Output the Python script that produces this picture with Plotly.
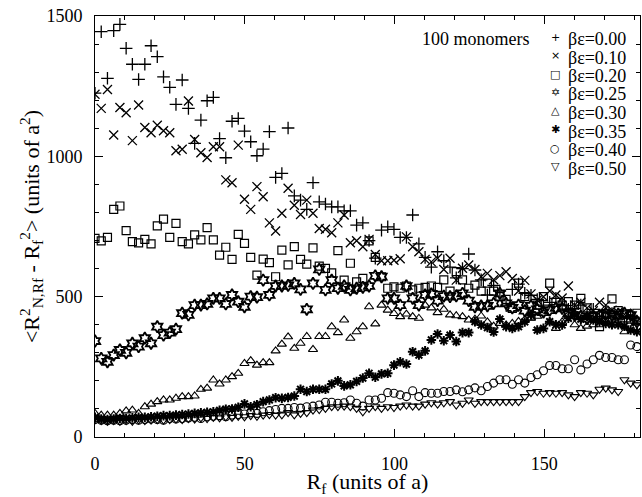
import plotly.graph_objects as go

# R_f sample positions (units of a)
R_f = [0, 2.08, 4.16, 6.24, 8.32, 10.4, 12.48, 14.56, 16.64, 18.72,
       20.8, 22.88, 24.96, 27.04, 29.12, 31.2, 33.28, 35.36, 37.44, 39.52,
       41.6, 43.68, 45.76, 47.84, 49.92, 52.0, 54.08, 56.16, 58.24, 60.32,
       62.4, 64.48, 66.56, 68.64, 70.72, 72.8, 74.88, 76.96, 79.04, 81.12,
       83.2, 85.28, 87.36, 89.44, 91.52, 93.6, 95.68, 97.76, 99.84, 101.92,
       104.0, 106.08, 108.16, 110.24, 112.32, 114.4, 116.48, 118.56, 120.64, 122.72,
       124.8, 126.88, 128.96, 131.04, 133.12, 135.2, 137.28, 139.36, 141.44, 143.52,
       145.6, 147.68, 149.76, 151.84, 153.92, 156.0, 158.08, 160.16, 162.24, 164.32,
       166.4, 168.48, 170.56, 172.64, 174.72, 176.8, 178.88, 180.96]

be_000 = [1225, 1444, 1278, 1448, 1470, 1385, 1328, 1274, 1328, 1394,
          1355, 1283, 1246, 1185, 1272, 1171, 1046, 1129, 1198, 1210,
          1063, 995, 1125, 1135, 1090, 1052, 1002, 1026, 1088, 925,
          939, 1101, 859, 844, 811, 906, 838, 830, 820, 820,
          806, 806, 755, 763, 700, 637, 737, 749, 740, 711,
          711, 791, 688, 640, 605, 660, 628, 605, 567, 600,
          652, 595, 560, 506, 540, 520, 470, 526, 545, 512,
          505, 490, 470, 480, 494, 470, 455, 458, 470, 440,
          455, 430, 446, 440, 420, 410, 430, 405]

be_010 = [1221, 1171, 1238, 1076, 1174, 1155, 1056, 1183, 1103, 1084,
          1111, 1091, 1084, 1020, 1025, 1197, 1060, 1013, 996, 1034,
          1034, 916, 906, 1040, 847, 811, 892, 856, 763, 734,
          797, 886, 826, 793, 844, 797, 743, 740, 728, 763,
          791, 692, 699, 678, 704, 650, 628, 628, 630, 635,
          713, 678, 660, 633, 624, 637, 597, 637, 559, 601,
          613, 597, 571, 583, 560, 575, 589, 565, 520, 558,
          510, 488, 500, 520, 506, 495, 538, 470, 480, 460,
          450, 480, 470, 452, 445, 437, 430, 411]

be_020 = [708, 699, 711, 811, 823, 735, 696, 692, 704, 688,
          752, 776, 711, 761, 696, 688, 720, 702, 746, 702,
          648, 676, 633, 722, 690, 640, 577, 634, 621, 571,
          666, 613, 678, 633, 616, 674, 609, 601, 585, 664,
          559, 619, 553, 565, 699, 640, 571, 530, 535, 530,
          538, 524, 530, 533, 538, 533, 560, 520, 589, 560,
          530, 541, 520, 548, 520, 500, 490, 458, 548, 500,
          431, 470, 500, 548, 480, 470, 482, 470, 494, 460,
          430, 393, 440, 492, 450, 438, 420, 441]

be_025 = [342, 280, 268, 292, 310, 300, 334, 322, 352, 334,
          393, 363, 372, 384, 441, 435, 470, 470, 474, 494,
          494, 474, 506, 482, 464, 500, 498, 559, 506, 538,
          538, 540, 547, 526, 455, 547, 597, 524, 559, 530,
          538, 524, 530, 533, 538, 574, 571, 494, 494, 470,
          538, 494, 470, 506, 510, 486, 502, 500, 503, 512,
          486, 464, 467, 467, 476, 512, 476, 460, 470, 450,
          467, 455, 445, 452, 460, 458, 440, 434, 430, 422,
          430, 434, 440, 434, 438, 441, 434, 410]

be_030 = [84, 78, 78, 78, 84, 93, 96, 84, 108, 117,
          126, 132, 132, 138, 144, 144, 146, 170, 174, 203,
          189, 203, 215, 227, 262, 272, 256, 265, 265, 307,
          331, 357, 316, 334, 358, 312, 358, 358, 393, 372,
          417, 352, 375, 393, 464, 403, 470, 452, 440, 429,
          438, 429, 423, 470, 460, 443, 455, 435, 432, 429,
          417, 420, 431, 410, 395, 405, 399, 405, 412, 418,
          424, 430, 441, 410, 387, 410, 435, 400, 387, 395,
          400, 400, 410, 420, 424, 375, 441, 420]

be_035 = [70, 64, 62, 64, 66, 66, 68, 70, 70, 72,
          74, 76, 76, 78, 80, 82, 84, 86, 88, 90,
          95, 99, 100, 106, 118, 108, 115, 126, 132, 140,
          138, 141, 146, 170, 162, 170, 170, 170, 189, 200,
          182, 186, 198, 210, 227, 213, 225, 227, 256, 268,
          260, 304, 292, 307, 346, 367, 343, 363, 340, 372,
          372, 411, 399, 390, 374, 420, 393, 387, 393, 410,
          435, 381, 387, 411, 400, 399, 423, 435, 420, 429,
          417, 410, 405, 400, 400, 395, 381, 375]

be_040 = [62, 60, 58, 60, 58, 60, 62, 60, 62, 64,
          62, 60, 66, 64, 66, 68, 70, 66, 72, 74,
          76, 72, 78, 80, 82, 86, 84, 90, 94, 98,
          102, 102, 105, 103, 108, 110, 114, 124, 124, 120,
          122, 132, 120, 110, 132, 132, 138, 158, 156, 150,
          144, 165, 144, 158, 156, 156, 162, 162, 168, 161,
          168, 175, 165, 180, 192, 204, 204, 188, 204, 192,
          212, 222, 236, 255, 255, 243, 243, 275, 239, 260,
          275, 291, 283, 283, 275, 275, 328, 322]

be_050 = [62, 58, 56, 58, 56, 58, 56, 60, 58, 60,
          62, 60, 62, 64, 62, 66, 64, 68, 66, 70,
          68, 72, 70, 74, 72, 76, 74, 78, 80, 78,
          79, 87, 79, 84, 87, 96, 98, 102, 108, 108,
          110, 108, 102, 90, 102, 108, 102, 108, 105, 110,
          114, 110, 110, 117, 122, 117, 122, 126, 114, 120,
          132, 120, 126, 126, 126, 126, 126, 126, 126, 144,
          158, 162, 156, 158, 156, 158, 150, 144, 158, 156,
          150, 170, 174, 168, 162, 204, 192, 186]

series_names = ["βε=0.00", "βε=0.10", "βε=0.20", "βε=0.25",
                "βε=0.30", "βε=0.35", "βε=0.40", "βε=0.50"]
series_values = [be_000, be_010, be_020, be_025, be_030, be_035, be_040, be_050]
legend_glyphs = ["+", "×", "□", "✡", "△", "✱", "○", "▽"]

marker_styles = [
    dict(symbol="cross-thin-open", size=9, line=dict(width=1.3, color="black")),
    dict(symbol="x-thin-open", size=9, line=dict(width=1.3, color="black")),
    dict(symbol="square-open", size=8, line=dict(width=1.2, color="black")),
    dict(symbol="hexagram-open", size=9, line=dict(width=1.8, color="black")),
    dict(symbol="triangle-up-open", size=8, line=dict(width=1.1, color="black")),
    dict(symbol="asterisk-open", size=8, line=dict(width=2.0, color="black")),
    dict(symbol="circle-open", size=8, line=dict(width=1.1, color="black")),
    dict(symbol="triangle-down-open", size=8, line=dict(width=1.1, color="black")),
]

fig = go.Figure()
for name, vals, ms in zip(series_names, series_values, marker_styles):
    fig.add_trace(go.Scatter(
        x=R_f[:len(vals)], y=vals, mode="markers", name=name,
        marker=dict(color="black", **ms), showlegend=False,
    ))

FONT = "Liberation Serif, Times New Roman, serif"
axis_common = dict(
    showline=True, linecolor="black", linewidth=1, mirror="ticks",
    ticks="inside", ticklen=8, tickwidth=1, tickcolor="black",
    showgrid=False, zeroline=False, automargin=False,
    tickfont=dict(family=FONT, size=18, color="black"),
)

fig.update_xaxes(
    range=[0, 182], tickmode="linear", tick0=0, dtick=50,
    minor=dict(dtick=10, ticks="inside", ticklen=4, tickcolor="black", showgrid=False),
    ticklabelstandoff=10,
    title=dict(text="R<sub>f</sub> (units of a)", font=dict(family=FONT, size=22, color="black"),
               standoff=4),
    **axis_common,
)
fig.update_yaxes(
    range=[0, 1500], tickmode="linear", tick0=0, dtick=500,
    minor=dict(dtick=100, ticks="inside", ticklen=4, tickcolor="black", showgrid=False),
    ticklabelstandoff=8,
    title=dict(text="&lt;R<sup>2</sup><sub>N,Rf</sub> - R<sub>f</sub><sup>2</sup>&gt; (units of a<sup>2</sup>)",
               font=dict(family=FONT, size=22, color="black"), standoff=0),
    **axis_common,
)

# plot area in pixels: x 95..640, y 16..437
def px_x(p):
    return (p - 95) / 545.0

def px_y(p):
    return (437 - p) / 421.0

annotations = [dict(
    x=px_x(420), y=px_y(39), xref="paper", yref="paper", xanchor="left", yanchor="middle",
    text="100 monomers", showarrow=False, font=dict(family=FONT, size=18, color="black"),
)]
row_y = [39, 57.5, 76, 94.5, 113, 131.5, 150, 168.5]
for ry, glyph, name in zip(row_y, legend_glyphs, series_names):
    annotations.append(dict(
        x=px_x(555), y=px_y(ry - 2), xref="paper", yref="paper", xanchor="center", yanchor="middle",
        text=glyph, showarrow=False, font=dict(family="DejaVu Sans", size=11, color="black"),
    ))
    annotations.append(dict(
        x=px_x(566), y=px_y(ry), xref="paper", yref="paper", xanchor="left", yanchor="middle",
        text=name, showarrow=False, font=dict(family=FONT, size=18, color="black"),
    ))

fig.update_layout(
    width=642, height=497,
    margin=dict(l=95, r=2, t=16, b=60),
    plot_bgcolor="white", paper_bgcolor="white",
    font=dict(family=FONT, color="black"),
    annotations=annotations,
    showlegend=False,
)

fig.write_html(
    "out.html",
    config={"displayModeBar": False},
    post_script="document.body.style.margin='0';document.body.style.padding='0';"
                "document.body.style.overflow='hidden';",
)
